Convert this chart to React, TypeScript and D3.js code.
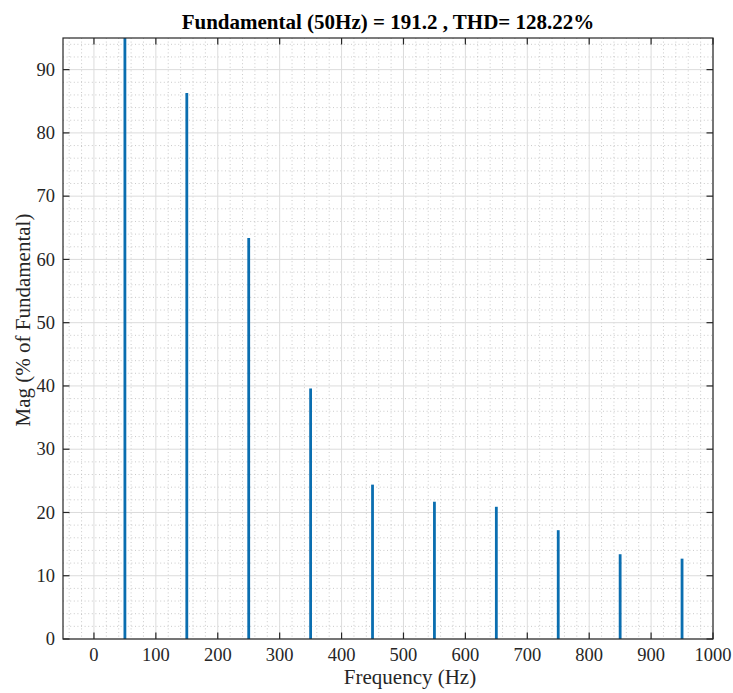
import React, { useEffect } from "react";
import * as d3 from "d3";

const harmonicsHz = [50, 150, 250, 350, 450, 550, 650, 750, 850, 950];
const magPercent = [100, 86.3, 63.4, 39.6, 24.4, 21.7, 20.9, 17.2, 13.4, 12.7];
const xTicks = [0, 100, 200, 300, 400, 500, 600, 700, 800, 900, 1000];
const yTicks = [0, 10, 20, 30, 40, 50, 60, 70, 80, 90];
const titleText = "Fundamental (50Hz) = 191.2 , THD= 128.22%";
const xLabel = "Frequency (Hz)";
const yLabel = "Mag (% of Fundamental)";

const W = 733;
const H = 693;
const M = { left: 63, top: 38, right: 713, bottom: 639 };
const FONT = "'Liberation Serif', 'Times New Roman', serif";
const AX = "#262626";

export default function App() {
  useEffect(() => {
    document.body.style.margin = "0";
  }, []);
  const x = d3.scaleLinear().domain([-50, 1000]).range([M.left, M.right]);
  const y = d3.scaleLinear().domain([0, 95]).range([M.bottom, M.top]);
  const xMinor = d3.range(-40, 1000, 20).filter((v) => v % 100 !== 0);
  const yMinor = d3.range(2, 95, 2).filter((v) => v % 10 !== 0);
  const tl = 6.5;
  return (
    <svg width={W} height={H} style={{ position: "absolute", left: 0, top: 0, background: "#fff" }}>
      <defs>
        <clipPath id="plotclip">
          <rect x={M.left} y={M.top} width={M.right - M.left} height={M.bottom - M.top} />
        </clipPath>
      </defs>
      <rect x={0} y={0} width={W} height={H} fill="#fff" />
      {/* minor grid */}
      <g stroke="#bdbdbd" strokeWidth={0.8} strokeDasharray="1 2.6">
        {xMinor.map((v) => (
          <line key={"xm" + v} x1={x(v)} x2={x(v)} y1={M.top} y2={M.bottom} />
        ))}
        {yMinor.map((v) => (
          <line key={"ym" + v} x1={M.left} x2={M.right} y1={y(v)} y2={y(v)} />
        ))}
      </g>
      {/* major grid */}
      <g stroke="#dcdcdc" strokeWidth={1}>
        {xTicks.map((v) => (
          <line key={"xg" + v} x1={x(v)} x2={x(v)} y1={M.top} y2={M.bottom} />
        ))}
        {yTicks.map((v) => (
          <line key={"yg" + v} x1={M.left} x2={M.right} y1={y(v)} y2={y(v)} />
        ))}
      </g>
      {/* stems */}
      <g clipPath="url(#plotclip)" stroke="#0a6eb0" strokeWidth={2.8}>
        {harmonicsHz.map((f, i) => (
          <line key={"s" + f} x1={x(f)} x2={x(f)} y1={y(0)} y2={y(magPercent[i])} />
        ))}
      </g>
      {/* box */}
      <rect x={M.left} y={M.top} width={M.right - M.left} height={M.bottom - M.top} fill="none" stroke={AX} strokeWidth={1.2} />
      {/* ticks */}
      <g stroke={AX} strokeWidth={1.2}>
        {xTicks.map((v) => (
          <g key={"xt" + v}>
            <line x1={x(v)} x2={x(v)} y1={M.bottom} y2={M.bottom - tl} />
            <line x1={x(v)} x2={x(v)} y1={M.top} y2={M.top + tl} />
          </g>
        ))}
        {yTicks.map((v) => (
          <g key={"yt" + v}>
            <line x1={M.left} x2={M.left + tl} y1={y(v)} y2={y(v)} />
            <line x1={M.right} x2={M.right - tl} y1={y(v)} y2={y(v)} />
          </g>
        ))}
      </g>
      {/* tick labels */}
      <g fill={AX} fontFamily={FONT} fontSize={18.5}>
        {xTicks.map((v) => (
          <text key={"xl" + v} x={x(v)} y={661} textAnchor="middle">
            {v}
          </text>
        ))}
        {yTicks.map((v) => (
          <text key={"yl" + v} x={55} y={y(v)} dy="0.33em" textAnchor="end">
            {v}
          </text>
        ))}
      </g>
      <text x={410} y={684} textAnchor="middle" fontFamily={FONT} fontSize={21} fill={AX}>
        {xLabel}
      </text>
      <text
        transform={`translate(30,${320}) rotate(-90)`}
        textAnchor="middle"
        fontFamily={FONT}
        fontSize={21}
        fill={AX}
      >
        {yLabel}
      </text>
      <text x={388} y={29} textAnchor="middle" fontFamily={FONT} fontSize={21} fontWeight="bold" fill="#000">
        {titleText}
      </text>
    </svg>
  );
}
